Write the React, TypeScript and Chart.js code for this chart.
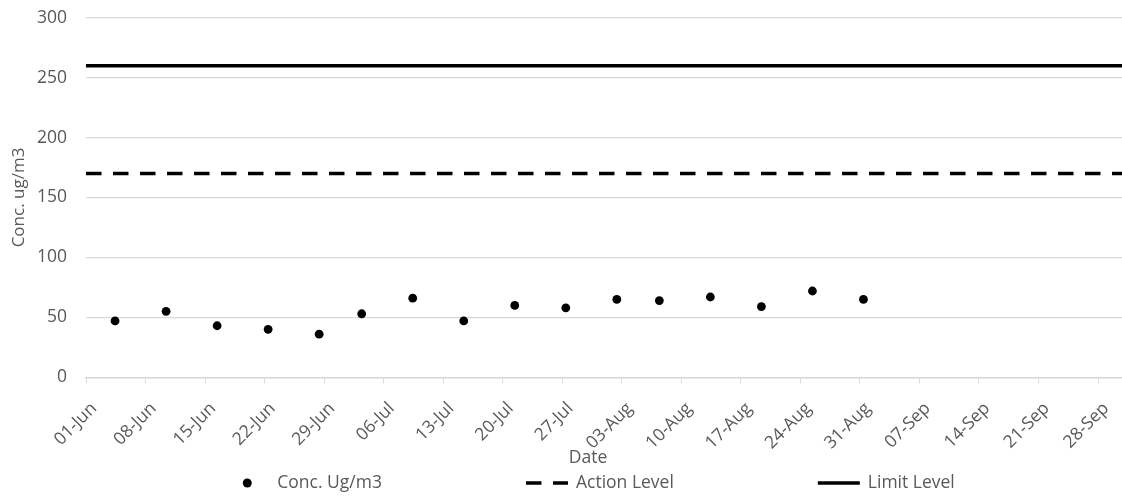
import React, { useEffect, useRef } from 'react';
import { Chart, registerables } from 'chart.js';

Chart.register(...registerables);

// ---------- data ----------
const axisStart = '2023-06-01T00:00';
const axisEnd = '2023-10-01T00:00';
const sampleDates = [
  '2023-06-04T10:00', '2023-06-10T10:00', '2023-06-16T10:00', '2023-06-22T10:00',
  '2023-06-28T10:00', '2023-07-03T10:00', '2023-07-09T10:00', '2023-07-15T10:00',
  '2023-07-21T10:00', '2023-07-27T10:00', '2023-08-02T10:00', '2023-08-07T10:00',
  '2023-08-13T10:00', '2023-08-19T10:00', '2023-08-25T10:00', '2023-08-31T10:00',
];
const concValues = [47, 55, 43, 40, 36, 53, 66, 47, 60, 58, 65, 64, 67, 59, 72, 65];
const actionLevel = 170;
const limitLevel = 260;
const levelDates = ['2023-06-01T00:00', '2023-10-01T00:00'];
const xTickLabels = [
  '01-Jun', '08-Jun', '15-Jun', '22-Jun', '29-Jun', '06-Jul', '13-Jul', '20-Jul', '27-Jul',
  '03-Aug', '10-Aug', '17-Aug', '24-Aug', '31-Aug', '07-Sep', '14-Sep', '21-Sep', '28-Sep',
];
const tickStepDays = 7;
const yMin = 0;
const yMax = 300;
const yStep = 50;
const seriesNames = ['Conc. Ug/m3', 'Action Level', 'Limit Level'];
const xAxisTitle = 'Date';
const yAxisTitle = 'Conc. ug/m3';

// ---------- helpers ----------
const DAY = 86400000;
const t0 = Date.parse(axisStart + 'Z');
const dayOf = (s: string) => (Date.parse(s + 'Z') - t0) / DAY;

const FONT = '"Open Sans", sans-serif';
const FS = 17.5;
const TEXT = '#595959';
const GRID = '#d9d9d9';

const customText = {
  id: 'customText',
  afterDraw(chart: any) {
    const ctx = chart.ctx as CanvasRenderingContext2D;
    ctx.save();
    ctx.font = `${FS}px ${FONT}`;
    ctx.fillStyle = TEXT;
    ctx.textBaseline = 'middle';
    ctx.textAlign = 'center';
    ctx.fillText(xAxisTitle, 588, 458);

    // legend
    const ds = chart.data.datasets;
    const symW = 42;
    const gap = 8;
    const spacing = 144;
    const widths = ds.map((d: any) => symW + gap + ctx.measureText(d.label).width);
    const total = widths.reduce((a: number, b: number) => a + b, 0) + spacing * (ds.length - 1);
    let x = 591 - total / 2;
    const y = 483;
    ds.forEach((d: any, i: number) => {
      ctx.save();
      if (d.showLine) {
        ctx.strokeStyle = d.borderColor;
        ctx.lineWidth = d.borderWidth;
        ctx.setLineDash(d.borderDash || []);
        ctx.lineCap = 'butt';
        ctx.beginPath();
        ctx.moveTo(x, y);
        ctx.lineTo(x + symW, y);
        ctx.stroke();
      } else {
        ctx.fillStyle = d.backgroundColor;
        ctx.beginPath();
        ctx.arc(x + 20, y, 4.5, 0, Math.PI * 2);
        ctx.fill();
      }
      ctx.restore();
      ctx.textAlign = 'left';
      ctx.fillText(d.label, x + symW + gap, y);
      x += widths[i] + spacing;
    });
    ctx.restore();
  },
};

export default function App() {
  const canvasRef = useRef<HTMLCanvasElement | null>(null);

  useEffect(() => {
    if (!canvasRef.current) return;
    const chart = new Chart(canvasRef.current, {
      type: 'scatter',
      data: {
        datasets: [
          {
            label: seriesNames[0],
            data: sampleDates.map((d, i) => ({ x: dayOf(d), y: concValues[i] })),
            backgroundColor: '#000000',
            borderColor: '#000000',
            pointRadius: 4.4,
            pointBorderWidth: 0,
            showLine: false,
          },
          {
            label: seriesNames[1],
            data: levelDates.map((d) => ({ x: dayOf(d), y: actionLevel })),
            borderColor: '#000000',
            backgroundColor: '#000000',
            borderWidth: 3.5,
            borderDash: [15.5, 11.5],
            pointRadius: 0,
            showLine: true,
          },
          {
            label: seriesNames[2],
            data: levelDates.map((d) => ({ x: dayOf(d), y: limitLevel })),
            borderColor: '#000000',
            backgroundColor: '#000000',
            borderWidth: 3.5,
            pointRadius: 0,
            showLine: true,
          },
        ] as any,
      },
      options: {
        animation: false,
        responsive: true,
        maintainAspectRatio: false,
        layout: { padding: { left: 9, top: 17.7, right: 0, bottom: 0 } },
        plugins: {
          legend: { display: false },
          tooltip: { enabled: false },
        },
        scales: {
          x: {
            type: 'linear',
            min: 0,
            max: dayOf(axisEnd),
            afterFit: (s: any) => { s.height = 123.7; },
            grid: {
              drawOnChartArea: false,
              drawTicks: true,
              tickLength: 6,
              color: GRID,
            },
            border: { display: true, color: GRID, width: 1.5 },
            ticks: {
              stepSize: tickStepDays,
              includeBounds: false,
              autoSkip: false,
              minRotation: 45,
              maxRotation: 45,
              padding: 15,
              labelOffset: 8,
              color: TEXT,
              font: { family: FONT, size: FS },
              callback: (v: any) => xTickLabels[Math.round(Number(v) / tickStepDays)] ?? '',
            },
          },
          y: {
            type: 'linear',
            min: yMin,
            max: yMax,
            afterFit: (s: any) => { s.width = 77; s.paddingTop = 10; s.paddingBottom = 10; },
            grid: { color: GRID, lineWidth: 1.3, drawTicks: false },
            border: { display: false },
            ticks: {
              stepSize: yStep,
              padding: 19,
              color: TEXT,
              font: { family: FONT, size: FS },
            },
            title: {
              display: true,
              text: yAxisTitle,
              color: TEXT,
              font: { family: FONT, size: 17 },
              padding: { top: 0, bottom: 0 },
            },
          },
        },
      },
      plugins: [customText],
    });
    return () => chart.destroy();
  }, []);

  return (
    <div style={{ position: 'absolute', left: 0, top: 0, width: 1122, height: 501, overflow: 'hidden', background: '#ffffff' }}>
      <div style={{ position: 'relative', width: 1128, height: 501 }}>
        <canvas ref={canvasRef} />
      </div>
    </div>
  );
}
